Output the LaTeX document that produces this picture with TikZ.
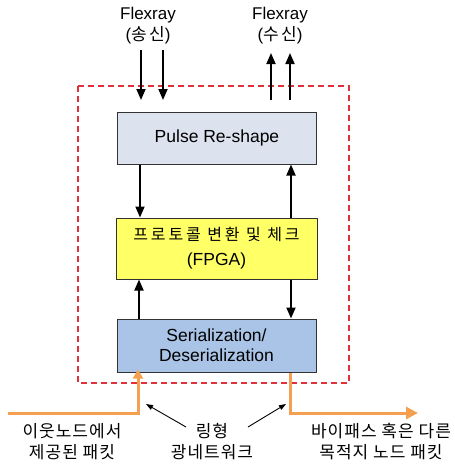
\documentclass[tikz,border=0pt]{standalone}
\usepackage{fontspec}
\setmainfont{Liberation Sans}
\newfontfamily\kr{Noto Sans CJK KR}
\newfontfamily\krsp[LetterSpace=6]{Noto Sans CJK KR}
\usetikzlibrary{arrows.meta}
\definecolor{pulsefill}{HTML}{DCE3EE}
\definecolor{fpgafill}{HTML}{FFFF66}
\definecolor{serfill}{HTML}{A9C4E6}
\definecolor{dashred}{HTML}{E0303A}
\definecolor{ringorange}{HTML}{F5A050}
\tikzset{
  blk/.style={draw=black!80, line width=1pt, minimum width=199pt, minimum height=52pt, align=center, font=\fontsize{17.5}{20}\selectfont, inner sep=0pt},
  sig/.style={line width=1.8pt, -{Triangle[length=11pt,width=9pt]}},
  ring/.style={draw=ringorange, line width=3pt},
  note/.style={line width=0.9pt, -{Triangle[length=7pt,width=5pt]}},
  lbl/.style={align=center, font=\fontsize{17}{21}\selectfont},
  krlbl/.style={align=center, font=\krsp\fontsize{17}{21}\selectfont},
}
\begin{document}
\begin{tikzpicture}[x=1pt,y=-1pt]
\useasboundingbox (0,0) rectangle (455,464);
% dashed frame
\draw[dashred, line width=1.6pt, dash pattern=on 6pt off 4pt] (78,86) rectangle (349,383);
% boxes
\node[blk, fill=pulsefill] (pulse) at (217,138) {Pulse Re-shape};
\node[blk, fill=fpgafill, minimum width=201pt, minimum height=61pt] (fpga) at (216.5,248.5) {{\kr\fontsize{16}{20}\selectfont\addfontfeature{LetterSpace=18}프로토콜 변환 및 체크}\\[5pt](FPGA)};
\node[blk, fill=serfill, minimum height=53pt] (ser) at (216.5,345.5) {Serialization/\\Deserialization};
% top labels
\node[lbl] (txl) at (148,26) {Flexray\\({\kr\addfontfeature{LetterSpace=14}송신})};
\node[lbl] (rxl) at (280,26) {Flexray\\({\kr\addfontfeature{LetterSpace=14}수신})};
% coordinates for top arrows
\coordinate (t1) at (141,50);
\coordinate (t2) at (163,50);
\coordinate (r1) at (271,53);
\coordinate (r2) at (290,53);
\draw[sig] (t1) -- (141,100);
\draw[sig] (t2) -- (163,100);
\draw[sig] (271,100) -- (r1);
\draw[sig] (290,100) -- (r2);
% between boxes
\draw[sig] (pulse.south -| 140,0) -- (fpga.north -| 140,0);
\draw[sig] (fpga.north -| 291,0) -- (pulse.south -| 291,0);
\draw[sig] (ser.north -| 139,0) -- (fpga.south -| 139,0);
\draw[sig] (fpga.south -| 291,0) -- (ser.north -| 291,0);
% ring network lines
\coordinate (inS) at (8,413);
\coordinate (outE) at (418,413);
\draw[ring, -{Triangle[length=9pt,width=10pt]}] (inS) -- (138,413) -- ([yshift=3pt]ser.south -| 138,0);
\draw[ring, -{Triangle[length=12pt,width=12pt]}] (ser.south -| 290,0) -- (290,413) -- (outE);
% bottom labels
\node[krlbl] (inl) at (72,442) {이웃노드에서\\제공된 패킷};
\node[krlbl] (ringl) at (212,442) {링형\\광네트워크};
\node[krlbl] (outl) at (381,442) {바이패스 혹은 다른\\목적지 노드 패킷};
\coordinate (pa) at (146,404);
\coordinate (pb) at (286,404);
\draw[note] (186,427) -- (pa);
\draw[note] (248,427) -- (pb);
\end{tikzpicture}
\end{document}
